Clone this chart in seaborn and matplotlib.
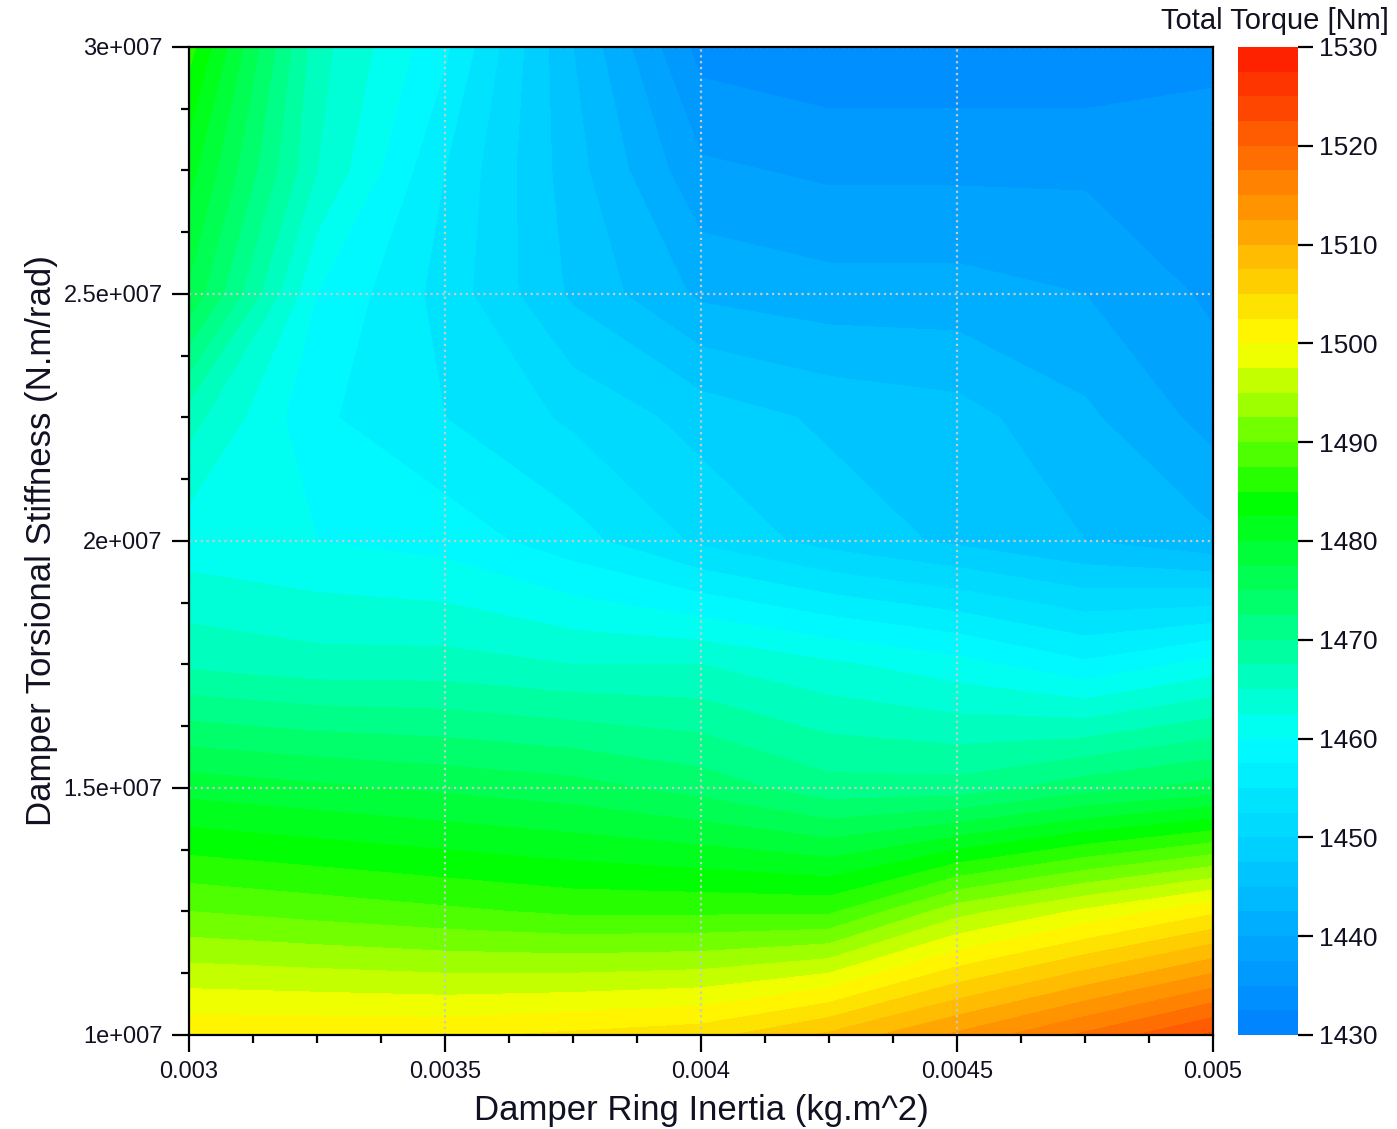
import numpy as np
import seaborn as sns
import matplotlib.pyplot as plt
from matplotlib.colors import LinearSegmentedColormap
from matplotlib.ticker import MultipleLocator, FuncFormatter

# === DATI ===
ring_inertia = [0.003, 0.00325, 0.0035, 0.00375, 0.004, 0.00425, 0.0045, 0.00475, 0.005]
stiffness = [1.0e7, 1.25e7, 1.5e7, 1.75e7, 2.0e7, 2.25e7, 2.5e7, 2.75e7, 3.0e7]

# righe di coppia totale [Nm], una per ogni valore di rigidezza
torque_100 = [1502, 1502, 1502, 1503, 1504, 1508, 1513, 1518, 1523]
torque_125 = [1490, 1489, 1488, 1487, 1487, 1487, 1494, 1498, 1502]
torque_150 = [1479, 1478, 1477, 1476, 1474, 1471, 1471, 1474, 1476]
torque_175 = [1467, 1466, 1466, 1465, 1465, 1463, 1461, 1458, 1461]
torque_200 = [1461, 1460, 1459, 1456, 1452, 1449, 1447, 1445, 1443]
torque_225 = [1466, 1458, 1455, 1452, 1449, 1447, 1446, 1443, 1439]
torque_250 = [1477, 1460, 1454, 1447, 1442, 1441, 1441, 1440, 1437]
torque_275 = [1481, 1465, 1455, 1446, 1438, 1437, 1437, 1437, 1437]
torque_300 = [1486, 1466, 1458, 1445, 1434, 1433, 1433, 1433, 1434]

cbar_ticks = [1430, 1440, 1450, 1460, 1470, 1480, 1490, 1500, 1510, 1520, 1530]

torque = np.array([torque_100, torque_125, torque_150, torque_175, torque_200,
                   torque_225, torque_250, torque_275, torque_300])

# === STILE ===
sns.set_theme(style="ticks")
plt.rcParams['font.family'] = ['Liberation Sans', 'DejaVu Sans']
plt.rcParams['text.color'] = '#111122'
plt.rcParams['xtick.color'] = 'black'
plt.rcParams['ytick.color'] = 'black'
plt.rcParams['xtick.labelcolor'] = '#111122'
plt.rcParams['ytick.labelcolor'] = '#111122'
plt.rcParams['axes.labelcolor'] = '#111122'

cmap = LinearSegmentedColormap.from_list('torque', [
    (0.00, (0.0, 0.50, 1.0)),
    (0.30, (0.0, 1.0, 1.0)),
    (0.54, (0.0, 1.0, 0.0)),
    (0.70, (1.0, 1.0, 0.0)),
    (1.00, (1.0, 0.10, 0.0)),
])
levels = np.arange(1430, 1530.01, 2.5)

# === GRAFICO ===
fig = plt.figure(figsize=(13.97, 11.29), dpi=100)
ax = fig.add_axes([0.1353, 0.0833, 0.7330, 0.8751])
cax = fig.add_axes([0.8862, 0.0833, 0.0429, 0.8751])

X, Y = np.meshgrid(ring_inertia, stiffness)
cs = ax.contourf(X, Y, torque, levels=levels, cmap=cmap, antialiased=False)

ax.set_xlim(0.003, 0.005)
ax.set_ylim(1e7, 3e7)
ax.xaxis.set_major_locator(MultipleLocator(0.0005))
ax.xaxis.set_minor_locator(MultipleLocator(0.000125))
ax.yaxis.set_major_locator(MultipleLocator(5e6))
ax.yaxis.set_minor_locator(MultipleLocator(1.25e6))
ax.xaxis.set_major_formatter(FuncFormatter(lambda v, p: f"{v:g}"))
ax.yaxis.set_major_formatter(FuncFormatter(lambda v, p: f"{v / 1e7:g}e+007"))
ax.tick_params(which='major', direction='out', length=12, width=1.6, labelsize=17, pad=7)
ax.tick_params(which='minor', direction='out', length=6, width=1.6)
ax.grid(True, which='major', color='#c8c8c8', linestyle=':', linewidth=1.6)
ax.set_axisbelow(False)
for s in ax.spines.values():
    s.set_linewidth(1.6)
    s.set_color('black')
    s.set_zorder(5)

ax.set_xlabel('Damper Ring Inertia (kg.m^2)', fontsize=25, labelpad=8)
ax.set_ylabel('Damper Torsional Stiffness (N.m/rad)', fontsize=25, labelpad=4)

cbar = fig.colorbar(cs, cax=cax, ticks=cbar_ticks)
cbar.outline.set_visible(False)
cbar.ax.tick_params(direction='out', length=11, width=1.6, labelsize=19, pad=4)
cbar.ax.minorticks_off()
fig.text(0.994, 0.981, 'Total Torque [Nm]', ha='right', va='center', fontsize=21)

fig.savefig('out.png', dpi=100)
